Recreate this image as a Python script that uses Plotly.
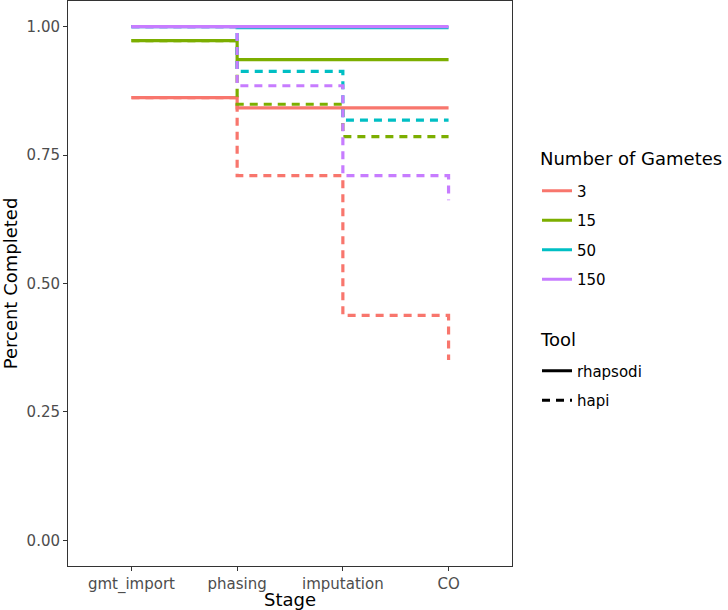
import plotly.graph_objects as go

stages = ["gmt_import", "phasing", "imputation", "CO"]
gametes = ["3", "15", "50", "150"]
colors = ["#F8766D", "#7CAE00", "#00BFC4", "#C77CFF"]
tools = ["rhapsodi", "hapi"]

rhapsodi_3 = [0.862, 0.842, 0.842, 0.842]
rhapsodi_15 = [0.973, 0.936, 0.936, 0.936]
rhapsodi_50 = [1.000, 0.998, 0.998, 0.998]
rhapsodi_150 = [1.000, 1.000, 1.000, 1.000]

hapi_3 = [0.862, 0.710, 0.438, 0.351]
hapi_15 = [0.973, 0.849, 0.786, 0.786]
hapi_50 = [1.000, 0.913, 0.818, 0.818]
hapi_150 = [1.000, 0.885, 0.710, 0.662]

y_ticks = [0.00, 0.25, 0.50, 0.75, 1.00]

series = {
    ("rhapsodi", "3"): rhapsodi_3,
    ("rhapsodi", "15"): rhapsodi_15,
    ("rhapsodi", "50"): rhapsodi_50,
    ("rhapsodi", "150"): rhapsodi_150,
    ("hapi", "3"): hapi_3,
    ("hapi", "15"): hapi_15,
    ("hapi", "50"): hapi_50,
    ("hapi", "150"): hapi_150,
}
dash_of = {"rhapsodi": "solid", "hapi": "8px,6px"}
LW = 3.2

W, H = 728, 610
ML, MR, MT, MB = 68, 216, 1, 44
PW = W - ML - MR
PH = H - MT - MB

fig = go.Figure()
for g, c in zip(gametes, colors):
    for t in tools:
        fig.add_trace(go.Scatter(
            x=stages, y=series[(t, g)], mode="lines",
            line=dict(color=c, width=LW, dash=dash_of[t], shape="hv"),
            showlegend=False, hoverinfo="skip",
        ))

# legend entries
for g, c in zip(gametes, colors):
    fig.add_trace(go.Scatter(
        x=[None], y=[None], mode="lines", name=g,
        line=dict(color=c, width=LW), legend="legend", legendgroup="g" + g,
    ))
for t in tools:
    fig.add_trace(go.Scatter(
        x=[None], y=[None], mode="lines", name=t,
        line=dict(color="black", width=LW, dash=dash_of[t]),
        legend="legend2", legendgroup="t" + t,
    ))

def px_x(px):
    return (px - ML) / PW

def px_y(py):
    return 1 - (py - MT) / PH

font_family = "DejaVu Sans"
fig.update_layout(
    width=W, height=H,
    margin=dict(l=ML, r=MR, t=MT, b=MB),
    paper_bgcolor="white", plot_bgcolor="white",
    font=dict(family=font_family, size=15, color="#4D4D4D"),
    xaxis=dict(
        type="category", categoryorder="array", categoryarray=stages,
        range=[-0.6, 3.6], showgrid=False, zeroline=False, automargin=False,
        showline=True, linecolor="#333333", linewidth=1, mirror=True,
        ticks="outside", ticklen=4, tickcolor="#333333",
        tickfont=dict(size=15, color="#4D4D4D"),
        title=dict(text="Stage", font=dict(size=18, color="black"), standoff=0),
    ),
    yaxis=dict(
        range=[-0.05, 1.05], tickvals=y_ticks,
        ticktext=[f"{v:.2f}" for v in y_ticks],
        showgrid=False, zeroline=False, automargin=False,
        showline=True, linecolor="#333333", linewidth=1, mirror=True,
        ticks="outside", ticklen=4, tickcolor="#333333",
        tickfont=dict(size=15, color="#4D4D4D"),
        title=dict(text="Percent Completed", font=dict(size=18, color="black"), standoff=4),
    ),
    legend=dict(
        font=dict(size=15, color="black"),
        xref="container", yref="container",
        x=537 / W, y=1 - 174.5 / H, xanchor="left", yanchor="top",
        tracegroupgap=7, bgcolor="rgba(0,0,0,0)",
    ),
    legend2=dict(
        font=dict(size=15, color="black"),
        xref="container", yref="container",
        x=537 / W, y=1 - 354.5 / H, xanchor="left", yanchor="top",
        tracegroupgap=7, bgcolor="rgba(0,0,0,0)",
    ),
    annotations=[
        dict(text="Number of Gametes", xref="paper", yref="paper",
             x=px_x(538), y=px_y(158), xanchor="left", yanchor="middle",
             showarrow=False, font=dict(size=18, color="black")),
        dict(text="Tool", xref="paper", yref="paper",
             x=px_x(538), y=px_y(339), xanchor="left", yanchor="middle",
             showarrow=False, font=dict(size=18, color="black")),
    ],
)

fig.write_html(
    "out.html",
    config={"displayModeBar": False},
    post_script="document.body.style.margin='0';document.body.style.padding='0';",
)
